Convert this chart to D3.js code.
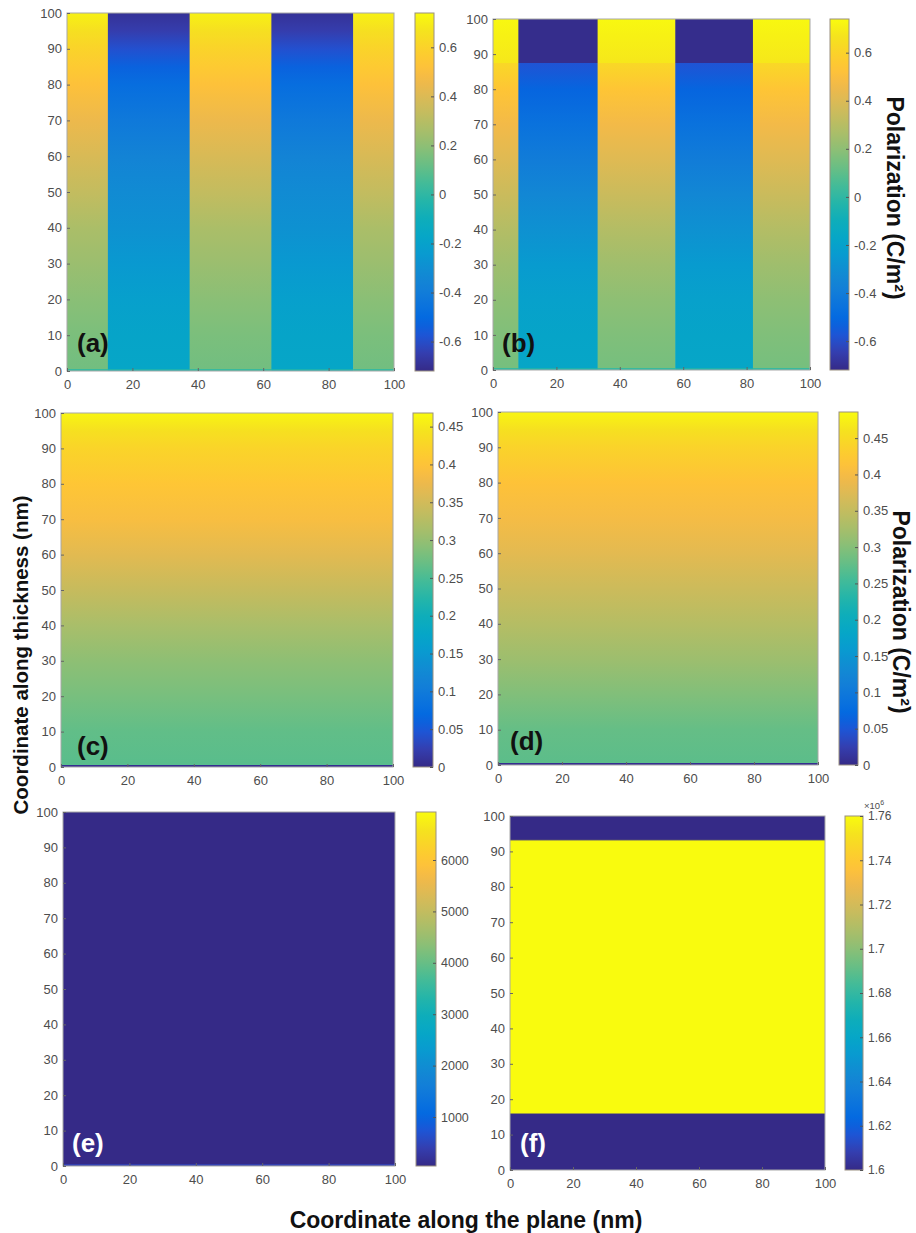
<!DOCTYPE html>
<html><head><meta charset="utf-8">
<script src="https://cdn.jsdelivr.net/npm/d3@7"></script>
<style>
body{margin:0;background:#fff}
text{font-family:"Liberation Sans",Arial,sans-serif}
</style>
</head><body>
<svg id="fig" width="916" height="1233"></svg>
<script>
// ---------- data ----------
const xTicks = [0, 20, 40, 60, 80, 100];
const yTicks = [0, 10, 20, 30, 40, 50, 60, 70, 80, 90, 100];

// (a) polarization, domain walls along the plane and profiles along thickness
const wallsA = [0, 12.5, 37.5, 62.5, 87.5, 100];
const phasesA = ["up", "down", "up", "down", "up"];
const thickA = [0, 0.6, 0.6, 10, 20, 30, 40, 50, 60, 70, 80, 85, 90, 95, 100];
const upA   = [0.02, 0.02, 0.14, 0.16, 0.19, 0.23, 0.27, 0.33, 0.39, 0.45, 0.52, 0.56, 0.60, 0.65, 0.71];
const downA = [-0.05, -0.05, -0.17, -0.18, -0.21, -0.25, -0.29, -0.32, -0.36, -0.42, -0.48, -0.53, -0.59, -0.65, -0.69];
const rangeA = [-0.72, 0.74];
const cbTicksA = [-0.6, -0.4, -0.2, 0, 0.2, 0.4, 0.6];

// (b)
const wallsB = [0, 8, 33, 57.5, 82, 100];
const phasesB = ["up", "down", "up", "down", "up"];
const thickB = [0, 0.6, 0.6, 10, 20, 30, 40, 50, 60, 70, 80, 87.5, 87.5, 95, 100];
const upB   = [0.02, 0.02, 0.15, 0.17, 0.20, 0.24, 0.29, 0.35, 0.41, 0.47, 0.54, 0.62, 0.68, 0.71, 0.73];
const downB = [-0.05, -0.05, -0.17, -0.18, -0.20, -0.24, -0.29, -0.34, -0.40, -0.46, -0.52, -0.58, -0.71, -0.71, -0.71];
const rangeB = [-0.72, 0.74];
const cbTicksB = [-0.6, -0.4, -0.2, 0, 0.2, 0.4, 0.6];

// (c)
const thickC = [0, 0.6, 0.6, 10, 20, 30, 40, 50, 60, 70, 80, 90, 95, 100];
const valsC  = [0.005, 0.005, 0.26, 0.265, 0.28, 0.295, 0.315, 0.34, 0.365, 0.39, 0.405, 0.425, 0.44, 0.462];
const rangeC = [0, 0.468];
const cbTicksC = [0, 0.05, 0.1, 0.15, 0.2, 0.25, 0.3, 0.35, 0.4, 0.45];

// (d)
const thickD = [0, 0.6, 0.6, 10, 20, 30, 40, 50, 60, 70, 80, 90, 95, 100];
const valsD  = [0.005, 0.005, 0.272, 0.278, 0.297, 0.318, 0.338, 0.358, 0.38, 0.40, 0.415, 0.44, 0.458, 0.48];
const rangeD = [0, 0.486];
const cbTicksD = [0, 0.05, 0.1, 0.15, 0.2, 0.25, 0.3, 0.35, 0.4, 0.45];

// (e)
const thickE = [0, 0.6, 0.6, 100];
const valsE  = [400, 400, 47, 47];
const rangeE = [47, 6934];
const cbTicksE = [1000, 2000, 3000, 4000, 5000, 6000];

// (f)
const thickF = [0, 15.7, 16.2, 92.9, 93.4, 100];
const valsF  = [1.6, 1.6, 1.76, 1.76, 1.6, 1.6];
const rangeF = [1.6, 1.76];
const cbTicksF = [1.6, 1.62, 1.64, 1.66, 1.68, 1.7, 1.72, 1.74, 1.76];

// parula colormap (every third entry of the 64-entry table)
const parula = [
 [0.2081,0.1663,0.5292],[0.2081,0.2386,0.6771],[0.1253,0.3242,0.8303],[0.0060,0.4086,0.8828],
 [0.0498,0.4586,0.8641],[0.0779,0.5040,0.8384],[0.0641,0.5570,0.8240],[0.0265,0.6137,0.8135],
 [0.0228,0.6535,0.7768],[0.0590,0.6838,0.7254],[0.1453,0.7098,0.6646],[0.2586,0.7317,0.5954],
 [0.3953,0.7459,0.5244],[0.5300,0.7491,0.4661],[0.6473,0.7456,0.4188],[0.7525,0.7384,0.3768],
 [0.8507,0.7299,0.3360],[0.9450,0.7261,0.2886],[0.9990,0.7653,0.2164],[0.9789,0.8271,0.1633],
 [0.9589,0.8949,0.1132],[0.9763,0.9831,0.0538]
].map(c => d3.rgb(c[0]*255, c[1]*255, c[2]*255).formatHex());
const parulaInterp = d3.piecewise(d3.interpolateRgb, parula);

// ---------- layout ----------
function segs(walls, phases, thick, up, down){
  return phases.map((p,i)=>({x0:walls[i], x1:walls[i+1], thick, vals: p==="up"?up:down}));
}
const panels = [
  {id:"a", box:{l:67,r:394,t:13,b:371}, cb:{l:415,r:434}, range:rangeA, cbTicks:cbTicksA,
   segments:segs(wallsA,phasesA,thickA,upA,downA), label:"(a)", lx:77, ly:352, lc:"#111"},
  {id:"b", box:{l:493,r:810,t:19,b:370}, cb:{l:830,r:849}, range:rangeB, cbTicks:cbTicksB,
   segments:segs(wallsB,phasesB,thickB,upB,downB), label:"(b)", lx:502, ly:352, lc:"#111"},
  {id:"c", box:{l:61,r:393,t:413,b:767}, cb:{l:413,r:433}, range:rangeC, cbTicks:cbTicksC,
   segments:[{x0:0,x1:100,thick:thickC,vals:valsC}], label:"(c)", lx:77, ly:755, lc:"#111"},
  {id:"d", box:{l:498,r:818,t:412,b:765}, cb:{l:839,r:858}, range:rangeD, cbTicks:cbTicksD,
   segments:[{x0:0,x1:100,thick:thickD,vals:valsD}], label:"(d)", lx:510, ly:750, lc:"#111"},
  {id:"e", box:{l:63,r:395,t:812,b:1166}, cb:{l:416,r:436}, range:rangeE, cbTicks:cbTicksE,
   segments:[{x0:0,x1:100,thick:thickE,vals:valsE}], label:"(e)", lx:72, ly:1152, lc:"#fff"},
  {id:"f", box:{l:510,r:825,t:816,b:1170}, cb:{l:845,r:863}, range:rangeF, cbTicks:cbTicksF,
   segments:[{x0:0,x1:100,thick:thickF,vals:valsF}], label:"(f)", lx:520, ly:1152, lc:"#fff", exp:true},
];

const svg = d3.select("#fig");
const defs = svg.append("defs");
const tickColor = "#4d4d4d";
const fmt = v => (+v.toFixed(4)).toString();

// colorbar gradient (shared)
const cbGrad = defs.append("linearGradient").attr("id","cbgrad")
  .attr("x1",0).attr("y1",1).attr("x2",0).attr("y2",0);
d3.range(0,1.0001,1/40).forEach(t=>{
  cbGrad.append("stop").attr("offset",t).attr("stop-color",parulaInterp(Math.min(t,1)));
});

panels.forEach(p=>{
  const g = svg.append("g");
  const x = d3.scaleLinear().domain([0,100]).range([p.box.l,p.box.r]);
  const y = d3.scaleLinear().domain([0,100]).range([p.box.b,p.box.t]);
  const color = d3.scaleSequential(parulaInterp).domain(p.range).clamp(true);

  p.segments.forEach((s,i)=>{
    const gid = `g_${p.id}_${i}`;
    const grad = defs.append("linearGradient").attr("id",gid)
      .attr("gradientUnits","userSpaceOnUse")
      .attr("x1",0).attr("x2",0).attr("y1",y(0)).attr("y2",y(100));
    s.thick.forEach((t,k)=>{
      grad.append("stop").attr("offset",t/100).attr("stop-color",color(s.vals[k]));
    });
    const w = x(s.x1)-x(s.x0) + (i<p.segments.length-1?0.6:0);
    g.append("rect").attr("x",x(s.x0)).attr("y",y(100))
      .attr("width",w).attr("height",y(0)-y(100))
      .attr("fill",`url(#${gid})`);
  });

  // box
  g.append("rect").attr("x",p.box.l).attr("y",p.box.t)
    .attr("width",p.box.r-p.box.l).attr("height",p.box.b-p.box.t)
    .attr("fill","none").attr("stroke","#a8a8a8").attr("stroke-width",1);

  // x axis
  const xa = g.append("g").attr("transform",`translate(0,${p.box.b})`)
    .call(d3.axisBottom(x).tickValues(xTicks).tickSizeInner(-3).tickSizeOuter(0).tickPadding(9));
  // y axis
  const ya = g.append("g").attr("transform",`translate(${p.box.l},0)`)
    .call(d3.axisLeft(y).tickValues(yTicks).tickSizeInner(-3).tickSizeOuter(0).tickPadding(5));
  [xa,ya].forEach(a=>{
    a.select(".domain").remove();
    a.selectAll("line").attr("stroke","#666");
    a.selectAll("text").attr("fill",tickColor).attr("font-size",13)
      .attr("font-family",'"Liberation Sans",Arial,sans-serif');
  });

  // colorbar
  const cy = d3.scaleLinear().domain(p.range).range([p.box.b,p.box.t]);
  g.append("rect").attr("x",p.cb.l).attr("y",p.box.t)
    .attr("width",p.cb.r-p.cb.l).attr("height",p.box.b-p.box.t)
    .attr("fill","url(#cbgrad)").attr("stroke","#9a9080").attr("stroke-width",1);
  const ca = g.append("g").attr("transform",`translate(${p.cb.r},0)`)
    .call(d3.axisRight(cy).tickValues(p.cbTicks).tickFormat(fmt).tickSizeInner(-3).tickSizeOuter(0).tickPadding(5));
  ca.select(".domain").remove();
  ca.selectAll("line").attr("stroke","#555");
  ca.selectAll("text").attr("fill",tickColor).attr("font-size", p.id==="e"?12.5:(p.id==="f"?12:13))
    .attr("font-family",'"Liberation Sans",Arial,sans-serif');
  if(p.exp){
    const t = g.append("text").attr("x",p.cb.r+1).attr("y",p.box.t-7)
      .attr("fill",tickColor).attr("font-size",9.5);
    t.append("tspan").text("×10");
    t.append("tspan").attr("dy",-4).attr("font-size",7).text("6");
  }

  // panel label
  g.append("text").attr("x",p.lx).attr("y",p.ly).attr("fill",p.lc)
    .attr("font-size",26).attr("font-weight","bold").text(p.label);
});

// axis titles
svg.append("text").attr("transform","translate(887,198) rotate(90)")
  .attr("text-anchor","middle").attr("font-size",23).attr("font-weight","bold").attr("fill","#111")
  .text("Polarization (C/m²)");
svg.append("text").attr("transform","translate(893,612) rotate(90)")
  .attr("text-anchor","middle").attr("font-size",23).attr("font-weight","bold").attr("fill","#111")
  .text("Polarization (C/m²)");
svg.append("text").attr("transform","translate(28,655) rotate(-90)")
  .attr("text-anchor","middle").attr("font-size",20.5).attr("font-weight","bold").attr("fill","#111")
  .text("Coordinate along thickness (nm)");
svg.append("text").attr("x",466).attr("y",1228)
  .attr("text-anchor","middle").attr("font-size",23).attr("font-weight","bold").attr("fill","#111")
  .text("Coordinate along the plane (nm)");
</script>
</body></html>
